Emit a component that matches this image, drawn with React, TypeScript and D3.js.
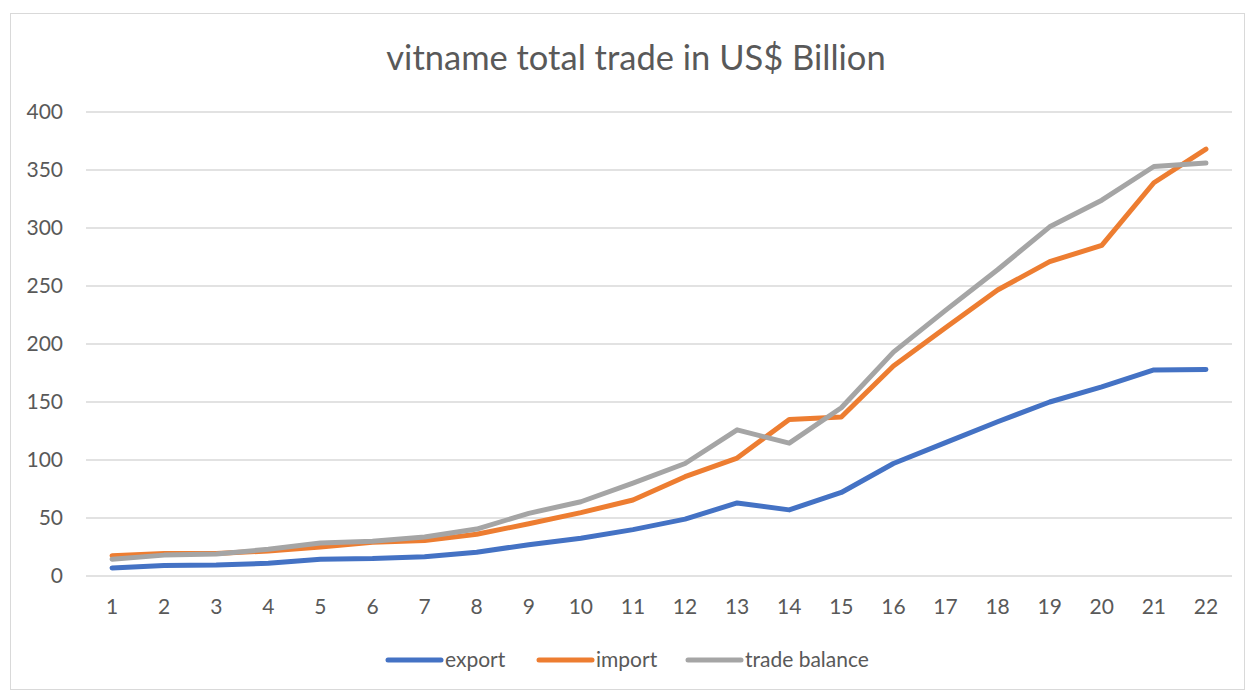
import React from 'react'
import * as d3 from 'd3'

const years = d3.range(1, 23).map(String)
const exportVals = [7, 9, 9.5, 11, 14.5, 15, 16.6, 20.5, 27, 32.6, 40, 49, 63, 57, 72, 97, 115, 133, 150, 163, 177.6, 178]
const importVals = [17.5, 19.5, 19.5, 21.5, 25, 29, 30.5, 36, 45, 54.6, 65.5, 85.6, 101.7, 135, 137, 181, 214, 246.5, 271, 285, 339, 368]
const balanceVals = [14.5, 18, 19, 23, 28.5, 30, 33.6, 40.5, 54, 64, 80, 97, 126, 114.5, 145, 193, 229, 264, 301, 324, 353, 356]
const yTicks = [0, 50, 100, 150, 200, 250, 300, 350, 400]

const series = [
  { name: 'export', values: exportVals, color: '#4472C4' },
  { name: 'import', values: importVals, color: '#ED7D31' },
  { name: 'trade balance', values: balanceVals, color: '#A5A5A5' },
]

const W = 1248
const H = 690
const font = 'Lato, "Open Sans", sans-serif'

export default function App() {
  const margin = { top: 112, right: 16, bottom: 114, left: 86 }

  const x = d3.scaleBand().domain(years).range([margin.left, W - margin.right])
  const y = d3.scaleLinear().domain([0, 400]).range([H - margin.bottom, margin.top])

  const line = d3
    .line<number>()
    .x((_, i) => (x(years[i]) ?? 0) + x.bandwidth() / 2)
    .y((d) => y(d))

  // legend layout
  const legendX = [388, 539, 688]

  return (
    <svg width={W} height={H} style={{ position: 'fixed', left: 0, top: 0, background: '#fff' }}>
      <rect x={10.5} y={13.5} width={1234} height={676} fill="#fff" stroke="#D9D9D9" />
      <text x={636} y={70} textAnchor="middle" fontFamily={font} fontSize={34.5} fill="#595959">
        vitname total trade in US$ Billion
      </text>

      {/* grid + y labels */}
      {yTicks.map((t) => (
        <g key={t}>
          <line x1={margin.left} x2={W - margin.right} y1={y(t)} y2={y(t)} stroke="#D9D9D9" strokeWidth={1.3} />
          <text x={63} y={y(t)} dy="0.35em" textAnchor="end" fontFamily={font} fontSize={21} fill="#595959">
            {t}
          </text>
        </g>
      ))}

      {/* x labels */}
      {years.map((c) => (
        <text
          key={c}
          x={(x(c) ?? 0) + x.bandwidth() / 2}
          y={607}
          dy="0.35em"
          textAnchor="middle"
          fontFamily={font}
          fontSize={21}
          fill="#595959"
        >
          {c}
        </text>
      ))}

      {series.map((s) => (
        <path
          key={s.name}
          d={line(s.values) ?? ''}
          fill="none"
          stroke={s.color}
          strokeWidth={5}
          strokeLinecap="round"
          strokeLinejoin="round"
        />
      ))}

      {/* legend */}
      {series.map((s, i) => (
        <g key={s.name} transform={`translate(${legendX[i]},660)`}>
          <line x1={0} x2={53} y1={0} y2={0} stroke={s.color} strokeWidth={5} strokeLinecap="round" />
          <text x={57} y={0} dy="0.35em" fontFamily={font} fontSize={21} fill="#595959">
            {s.name}
          </text>
        </g>
      ))}
    </svg>
  )
}
